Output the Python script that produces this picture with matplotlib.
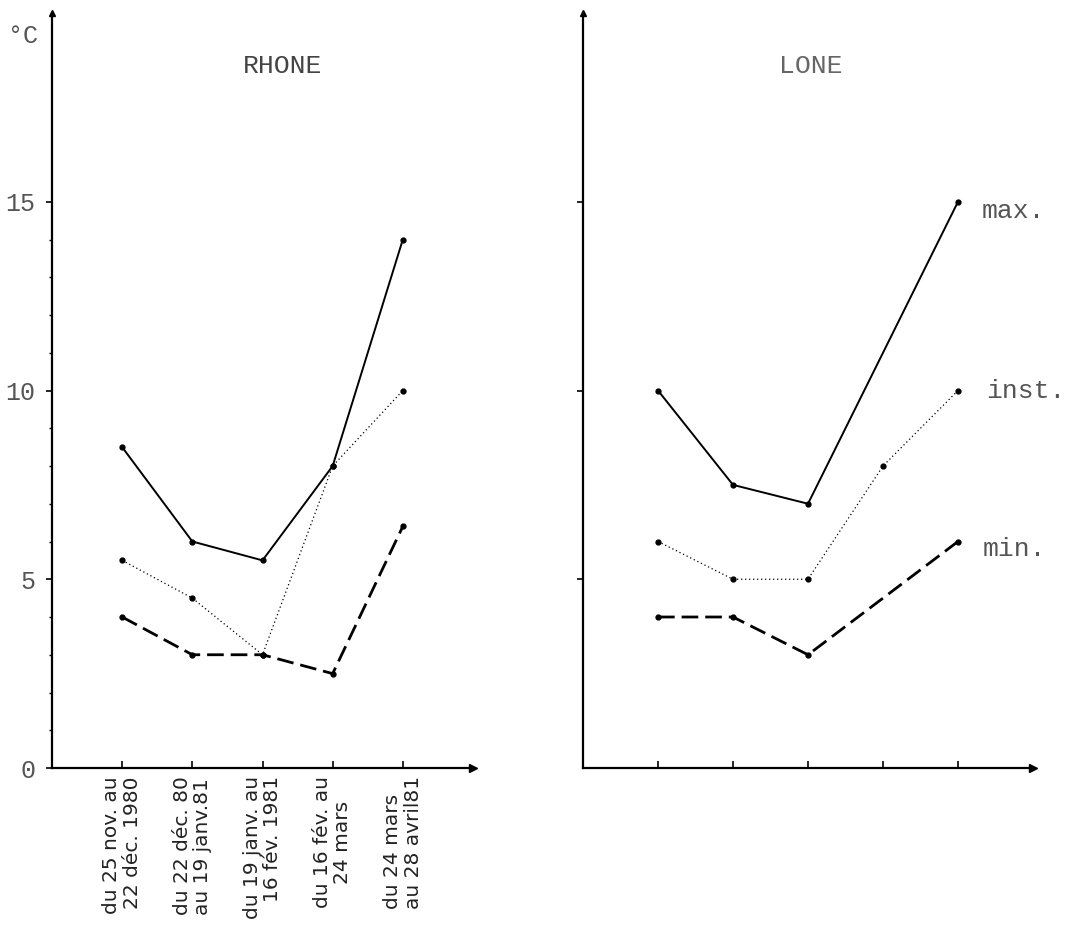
import matplotlib
matplotlib.use("Agg")
import matplotlib.pyplot as plt

# ---- data ----
periods = [1, 2, 3, 4, 5]
period_labels = [
    "du 25 nov. au\n22 déc. 1980",
    "du 22 déc. 80\nau 19 janv.81",
    "du 19 janv. au\n16 fév. 1981",
    "du 16 fév. au\n24 mars",
    "du 24 mars\nau 28 avril81",
]
label_align = ["right", "left", "right", "center", "left"]

rhone_max = [8.5, 6.0, 5.5, 8.0, 14.0]
rhone_inst = [5.5, 4.5, 3.0, 8.0, 10.0]
rhone_min = [4.0, 3.0, 3.0, 2.5, 6.4]

lone_max = [10.0, 7.5, 7.0, 11.0, 15.0]
lone_inst = [6.0, 5.0, 5.0, 8.0, 10.0]
lone_min = [4.0, 4.0, 3.0, 4.5, 6.0]

series_names = ["max.", "inst.", "min."]
y_major = [0, 5, 10, 15]
y_minor = list(range(1, 15))

# ---- figure ----
W, H = 1077, 927
fig = plt.figure(figsize=(W / 100, H / 100), dpi=100)
mono = "Liberation Mono"
txt_col = "#555555"

def fx(px):
    return px / W

def fy(py):
    return 1 - py / H

y0_px, ytop_px = 768, 13
axL = fig.add_axes([fx(52), fy(y0_px), fx(473) - fx(52), fy(ytop_px) - fy(y0_px)])
axR = fig.add_axes([fx(583), fy(y0_px), fx(1033) - fx(583), fy(ytop_px) - fy(y0_px)])

styles = {
    "max": dict(color="black", lw=1.4, linestyle="-"),
    "inst": dict(color="black", lw=0.9, dashes=(1, 2.2)),
    "min": dict(color="black", lw=2.0, dashes=(6, 2.5)),
}

def draw(ax, vmax, vinst, vmin, mk_max=None, mk_min=None):
    ax.plot(periods, vmax, marker="o", ms=3.5, markevery=mk_max, **styles["max"])
    ax.plot(periods, vinst, marker="o", ms=3.5, **styles["inst"])
    ax.plot(periods, vmin, marker="o", ms=3.5, markevery=mk_min, **styles["min"])

draw(axL, rhone_max, rhone_inst, rhone_min)
draw(axR, lone_max, lone_inst, lone_min, mk_max=[0, 1, 2, 4], mk_min=[0, 1, 2, 4])

for ax in (axL, axR):
    ax.set_xlim(0, 6)
    ax.set_ylim(0, 20)
    ax.patch.set_alpha(0)
    for s in ("top", "right"):
        ax.spines[s].set_visible(False)
    ax.spines["left"].set_linewidth(1.6)
    ax.spines["bottom"].set_linewidth(1.6)
    ax.set_xticks(periods)
    ax.tick_params(axis="x", direction="in", length=5, width=1.2)
    ax.set_yticks(y_major)
    ax.tick_params(axis="y", direction="out", length=4, width=1.2)
    # arrow heads
    ax.plot(1, 0, ">k", ms=6, transform=ax.get_yaxis_transform(), clip_on=False)
    ax.plot(0, 1, "^k", ms=5, transform=ax.get_xaxis_transform(), clip_on=False)

axL.set_yticks(y_minor, minor=True)
axL.tick_params(axis="y", which="minor", direction="out", length=2.5, width=1.0)
axL.set_yticklabels([str(v) for v in y_major], fontfamily=mono, fontsize=18, color=txt_col)
axL.tick_params(axis="y", pad=8)
axL.set_xticklabels(period_labels, rotation=90, fontsize=14.5, color="#222222",
                    va="top", ha="center")
axL.tick_params(axis="x", pad=6)
for t, a in zip(axL.get_xticklabels(), label_align):
    t.set_multialignment(a)
    t.set_linespacing(1.1)

axR.set_yticks([5, 10, 15])
axR.set_yticklabels([])
axR.set_xticklabels([])

# titles and labels
axL.text(3.28, 18.6, "RHONE", ha="center", va="center", fontfamily=mono,
         fontsize=19, color="#444444")
axR.text(3.03, 18.6, "LONE", ha="center", va="center", fontfamily=mono,
         fontsize=19, color="#666666")
fig.text(fx(8), fy(36), "°C", ha="left", va="center", fontfamily=mono,
         fontsize=18, color=txt_col)

label_y = [14.75, 10.0, 5.8]
label_x = [5.32, 5.38, 5.33]
for name, lx, ly in zip(series_names, label_x, label_y):
    axR.text(lx, ly, name, ha="left", va="center", fontfamily=mono, fontsize=19,
             color=txt_col, clip_on=False)

fig.savefig("out.png", dpi=100)
